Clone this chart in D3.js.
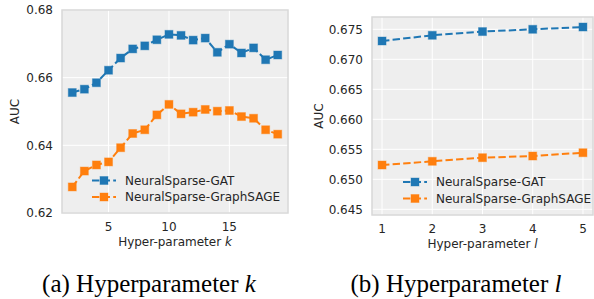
<!DOCTYPE html>
<html>
<head>
<meta charset="utf-8">
<script src="https://cdn.jsdelivr.net/npm/d3@7"></script>
<style>
  body { margin: 0; background: #fff; }
  svg { display: block; }
</style>
</head>
<body>
<div id="container"></div>
<script>
// panel (a): hyper-parameter k
const kValues = [2, 3, 4, 5, 6, 7, 8, 9, 10, 11, 12, 13, 14, 15, 16, 17, 18, 19];
const kGat = [0.6556, 0.6566, 0.6585, 0.6622, 0.6658, 0.6685, 0.6694, 0.6712, 0.6728,
              0.6725, 0.6711, 0.6717, 0.6675, 0.6699, 0.6673, 0.6688, 0.6653, 0.6667];
const kSage = [0.6277, 0.6324, 0.6342, 0.6351, 0.6393, 0.6435, 0.6446, 0.6490, 0.6521,
               0.6493, 0.6498, 0.6506, 0.6501, 0.6503, 0.6485, 0.6480, 0.6446, 0.6433];
const kXTicks = [5, 10, 15];
const kYTicks = [0.62, 0.64, 0.66, 0.68];

// panel (b): hyper-parameter l
const lValues = [1, 2, 3, 4, 5];
const lGat = [0.67305, 0.6740, 0.67462, 0.6750, 0.67538];
const lSage = [0.65238, 0.6530, 0.6536, 0.65388, 0.65443];
const lXTicks = [1, 2, 3, 4, 5];
const lYTicks = [0.645, 0.650, 0.655, 0.660, 0.665, 0.670, 0.675];

const seriesNames = ['NeuralSparse-GAT', 'NeuralSparse-GraphSAGE'];
const colors = ['#1f77b4', '#ff7f0e'];

const svg = d3.select('#container').append('svg')
    .attr('width', 594)
    .attr('height', 299);

const font = 'DejaVu Sans, sans-serif';
const dash = '7.4,3.2';
const ms = 8; // marker size

function panel(o) {
    const x = d3.scaleLinear().domain(o.xDomain).range([o.left, o.right]);
    const y = d3.scaleLinear().domain(o.yDomain).range([o.bottom, o.top]);
    const g = svg.append('g');

    g.append('rect')
        .attr('x', o.left).attr('y', o.top)
        .attr('width', o.right - o.left).attr('height', o.bottom - o.top)
        .style('fill', '#eeeeee');

    // grid
    g.selectAll('.vg').data(o.xTicks).enter().append('line')
        .attr('x1', d => x(d)).attr('x2', d => x(d))
        .attr('y1', o.top).attr('y2', o.bottom)
        .style('stroke', '#fff').style('stroke-width', 1);
    g.selectAll('.hg').data(o.yTicks).enter().append('line')
        .attr('x1', o.left).attr('x2', o.right)
        .attr('y1', d => y(d)).attr('y2', d => y(d))
        .style('stroke', '#fff').style('stroke-width', 1);

    g.append('rect')
        .attr('x', o.left).attr('y', o.top)
        .attr('width', o.right - o.left).attr('height', o.bottom - o.top)
        .style('fill', 'none').style('stroke', '#d8d8d8').style('stroke-width', 1.5);

    // tick labels
    g.selectAll('.xt').data(o.xTicks).enter().append('text')
        .attr('x', d => x(d)).attr('y', o.bottom + 18)
        .attr('text-anchor', 'middle')
        .style('font-family', font).style('font-size', '12px').style('fill', '#262626')
        .text(d => d);
    g.selectAll('.yt').data(o.yTicks).enter().append('text')
        .attr('x', o.left - 9).attr('y', d => y(d))
        .attr('dy', '0.35em')
        .attr('text-anchor', 'end')
        .style('font-family', font).style('font-size', '12px').style('fill', '#262626')
        .text(d => d3.format(o.yFmt)(d));

    // axis labels
    g.append('text')
        .attr('transform', `translate(${o.yLabelX} ${(o.top + o.bottom) / 2}) rotate(-90)`)
        .attr('text-anchor', 'middle')
        .style('font-family', font).style('font-size', '12px').style('fill', '#262626')
        .text('AUC');
    g.append('text')
        .attr('x', (o.left + o.right) / 2).attr('y', o.bottom + 33)
        .attr('text-anchor', 'middle')
        .style('font-family', font).style('font-size', '12px').style('fill', '#262626')
        .html(`Hyper-parameter <tspan font-style="italic">${o.param}</tspan>`);

    // series
    const line = d3.line().x(d => x(d[0])).y(d => y(d[1]));
    o.series.forEach((vals, i) => {
        const pts = o.xs.map((v, j) => [v, vals[j]]);
        g.append('path').datum(pts)
            .attr('d', line)
            .style('fill', 'none')
            .style('stroke', colors[i])
            .style('stroke-width', 2)
            .style('stroke-dasharray', dash);
        g.selectAll('.m' + i).data(pts).enter().append('rect')
            .attr('x', d => x(d[0]) - ms / 2).attr('y', d => y(d[1]) - ms / 2)
            .attr('width', ms).attr('height', ms)
            .style('fill', colors[i])
            .style('stroke', colors[i]).style('stroke-opacity', 0.4).style('stroke-width', 1);
    });

    // legend
    seriesNames.forEach((name, i) => {
        const ly = o.legendY + i * 16.5;
        const lx = o.legendX;
        g.append('line')
            .attr('x1', lx).attr('x2', lx + 24)
            .attr('y1', ly).attr('y2', ly)
            .style('stroke', colors[i]).style('stroke-width', 2)
            .style('stroke-dasharray', dash);
        g.append('rect')
            .attr('x', lx + 12 - ms / 2).attr('y', ly - ms / 2)
            .attr('width', ms).attr('height', ms)
            .style('fill', colors[i])
            .style('stroke', colors[i]).style('stroke-opacity', 0.4).style('stroke-width', 1);
        g.append('text')
            .attr('x', lx + 33).attr('y', ly).attr('dy', '0.35em')
            .style('font-family', font).style('font-size', '12px').style('fill', '#262626')
            .text(name);
    });

    // caption
    svg.append('text')
        .attr('x', o.capX).attr('y', 292)
        .attr('text-anchor', 'middle')
        .style('font-family', 'Liberation Serif, Times New Roman, serif')
        .style('font-size', '25px').style('fill', '#000')
        .html(`${o.capPrefix} Hyperparameter <tspan font-style="italic">${o.param}</tspan>`);
}

panel({
    left: 62, right: 288, top: 10, bottom: 213,
    xDomain: [1.15, 19.85], yDomain: [0.62, 0.68],
    xTicks: kXTicks, yTicks: kYTicks, yFmt: '.2f',
    xs: kValues, series: [kGat, kSage],
    yLabelX: 19, param: 'k',
    legendX: 92, legendY: 180.5,
    capX: 149, capPrefix: '(a)'
});

panel({
    left: 372, right: 593, top: 17, bottom: 215,
    xDomain: [0.8, 5.2], yDomain: [0.64405, 0.67705],
    xTicks: lXTicks, yTicks: lYTicks, yFmt: '.3f',
    xs: lValues, series: [lGat, lSage],
    yLabelX: 323, param: 'l',
    legendX: 403, legendY: 182,
    capX: 456, capPrefix: '(b)'
});
</script>
</body>
</html>
